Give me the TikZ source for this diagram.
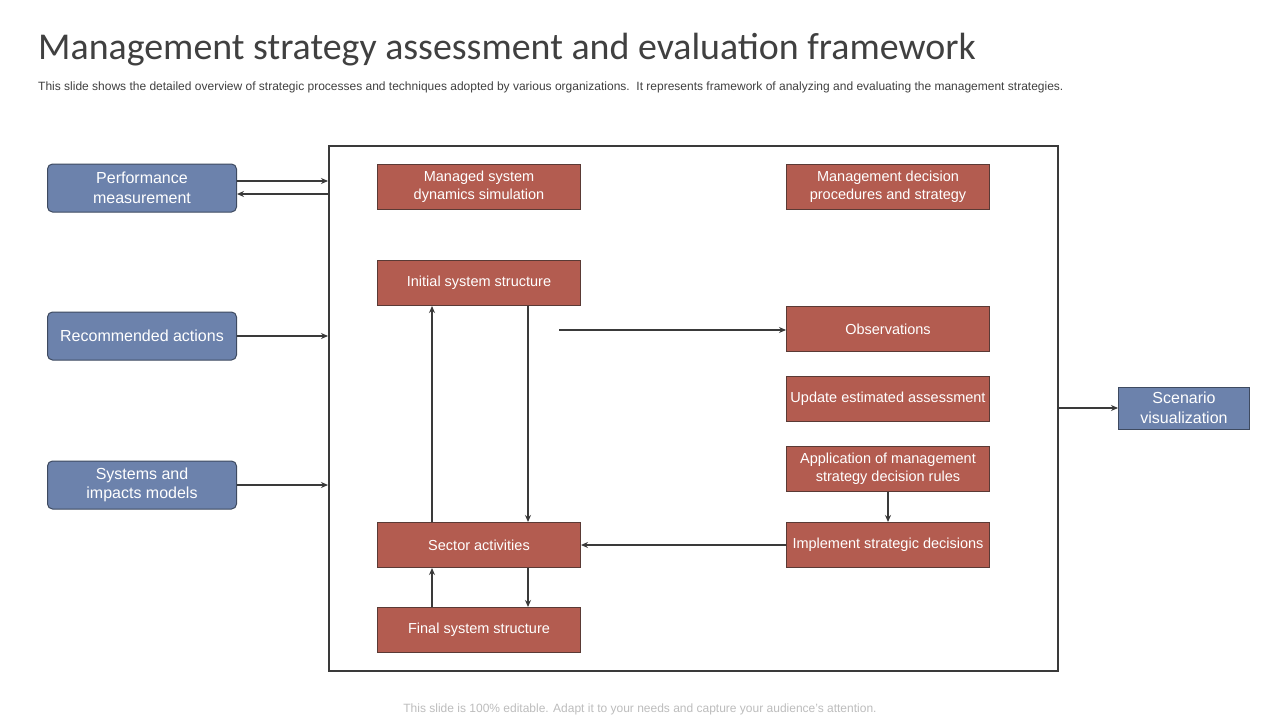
\documentclass[tikz,border=0pt]{standalone}
\usepackage{fontspec}
\setmainfont{Liberation Sans}
\newfontfamily\titlefont{Carlito}
\usetikzlibrary{arrows.meta}
\definecolor{redbox}{HTML}{B35C50}
\definecolor{redline}{HTML}{5A3A35}
\definecolor{bluebox}{HTML}{6C82AC}
\definecolor{blueline}{HTML}{3E4A60}
\definecolor{arrowc}{HTML}{3A3A3A}
\definecolor{txtgray}{HTML}{404040}
\definecolor{footgray}{HTML}{BDBDBD}
\tikzset{
  redstep/.style={draw=redline, line width=1pt, fill=redbox, text=white, align=center,
    minimum width=203pt, minimum height=45pt, inner sep=0pt, font=\fontsize{14.5}{18}\selectfont},
  bluestep/.style={draw=blueline, line width=1pt, fill=bluebox, text=white, align=center,
    minimum width=189pt, minimum height=48pt, inner sep=0pt, rounded corners=5pt,
    font=\fontsize{16}{19.5}\selectfont},
  conn/.style={draw=arrowc, line width=1.9pt, -{Stealth[length=7pt,width=6pt]}},
}
\begin{document}
\begin{tikzpicture}[x=1pt,y=-1pt]
\useasboundingbox (0,0) rectangle (1280,720);
\fill[white] (0,0) rectangle (1280,720);
% title
\node[anchor=base west, inner sep=0pt, text=txtgray, font=\titlefont\fontsize{37.9}{42}\selectfont] (title) at (38,59) {Management strategy assessment and evaluation framework};
\node[anchor=base west, inner sep=0pt, text=txtgray, font=\fontsize{12}{14}\selectfont] (sub) at (38,90) {This slide shows the detailed overview of strategic processes and techniques adopted by various organizations.\ \ It represents framework of analyzing and evaluating the management strategies.};
\node[anchor=base, inner sep=0pt, text=footgray, font=\fontsize{12}{14}\selectfont] (foot) at (640,712) {This slide is 100\% editable. Adapt it to your needs and capture your audience's attention.};
% frame
\node[draw=arrowc, line width=1.9pt, minimum width=729pt, minimum height=525pt, inner sep=0pt, anchor=north west] (frame) at (328,145) {};
% blue boxes
\node[bluestep] (pm) at (142,188) {Performance\\measurement};
\node[bluestep] (ra) at (142,336) {Recommended actions};
\node[bluestep] (sim) at (142,485) {Systems and\\impacts models};
\node[bluestep, rounded corners=0pt, minimum width=131pt, minimum height=42pt] (sv) at (1184,408) {Scenario\\visualization};
% red boxes left
\node[redstep] (mds) at (479,187) {Managed system\\dynamics simulation};
\node[redstep] (iss) at (479,283) {Initial system structure};
\node[redstep] (sa) at (479,545) {Sector activities};
\node[redstep] (fss) at (479,630) {Final system structure};
% red boxes right
\node[redstep] (mdp) at (888,187) {Management decision\\procedures and strategy};
\node[redstep] (obs) at (888,329) {Observations};
\node[redstep] (uea) at (888,399) {Update estimated assessment};
\node[redstep] (app) at (888,469) {Application of management\\strategy decision rules};
\node[redstep] (isd) at (888,545) {Implement strategic decisions};
% connectors from left boxes
\draw[conn] (pm.east |- 0,181) -- (frame.west |- 0,181);
\draw[conn] (frame.west |- 0,194) -- (pm.east |- 0,194);
\draw[conn] (ra.east) -- (frame.west |- ra.east);
\draw[conn] (sim.east) -- (frame.west |- sim.east);
\draw[conn] (frame.east |- sv.west) -- (sv.west);
% internal
\draw[conn] (sa.north -| 432,0) -- (iss.south -| 432,0);
\draw[conn] (iss.south -| 528,0) -- (sa.north -| 528,0);
\draw[conn] (fss.north -| 432,0) -- (sa.south -| 432,0);
\draw[conn] (sa.south -| 528,0) -- (fss.north -| 528,0);
\coordinate (obsstart) at (559,330);
\draw[conn] (obsstart) -- (obs.west |- obsstart);
\draw[conn] (isd.west) -- (sa.east);
\draw[conn] (app.south) -- (isd.north);
\end{tikzpicture}
\end{document}
